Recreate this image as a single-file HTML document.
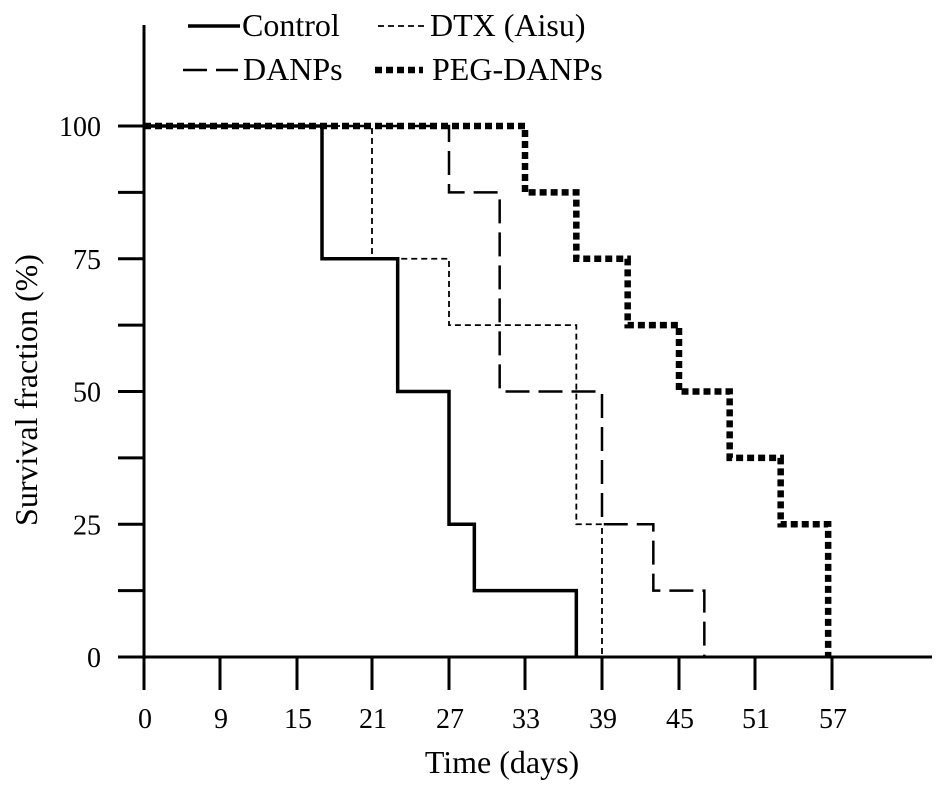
<!DOCTYPE html>
<html><head><meta charset="utf-8"><style>
html,body{margin:0;padding:0;background:#fff;}
svg text{font-family:"Liberation Serif",serif;fill:#000;}
</style></head><body>
<svg id="chart" width="945" height="794" viewBox="0 0 945 794" xmlns="http://www.w3.org/2000/svg">
<g id="axes"></g>
<g id="series"></g>
<g id="legend"></g>
<text x="502" y="773" font-size="32" text-anchor="middle">Time (days)</text>
<text transform="translate(37,390) rotate(-90)" font-size="32" text-anchor="middle">Survival fraction (%)</text>
</svg>
<script>
const xTickValues=[0,9,15,21,27,33,39,45,51,57];
const xTickPixels=[144,220,297,372,449,525,602,679,755,832];
const yTicks=[0,25,50,75,100];
const yMinorTicks=[12.5,37.5,62.5,87.5];
const controlDays=[0,17,23,27,29,37];
const controlVals=[100,75,50,25,12.5,0];
const dtxDays=[0,21,27,37,39];
const dtxVals=[100,75,62.5,25,0];
const danpsDays=[0,27,31,39,43,47];
const danpsVals=[100,87.5,50,25,12.5,0];
const pegDays=[0,33,37,41,45,49,53,56.7];
const pegVals=[100,87.5,75,62.5,50,37.5,25,0];

const NS="http://www.w3.org/2000/svg";
function xs(d){
  for(let i=0;i<xTickValues.length-1;i++){
    if(d<=xTickValues[i+1]){const t=(d-xTickValues[i])/(xTickValues[i+1]-xTickValues[i]);return xTickPixels[i]+t*(xTickPixels[i+1]-xTickPixels[i]);}
  }
  const n=xTickValues.length;return xTickPixels[n-1]+(d-xTickValues[n-1])*(xTickPixels[n-1]-xTickPixels[n-2])/(xTickValues[n-1]-xTickValues[n-2]);
}
function ys(v){return 657-v*5.31;}
function mk(tag,attrs,parent){const e=document.createElementNS(NS,tag);for(const k in attrs)e.setAttribute(k,attrs[k]);parent.appendChild(e);return e;}
const axes=document.getElementById('axes');
let l=mk('line',{x1:144,y1:25,x2:144,y2:658,stroke:'#000','stroke-width':3},axes);


l=mk('line',{x1:118,y1:657,x2:932,y2:657,stroke:'#000','stroke-width':3},axes);


yTicks.forEach(v=>{
  const t=mk('line',{x1:118,y1:ys(v),x2:144,y2:ys(v),stroke:'#000','stroke-width':3},axes);
  
  
  const tx=mk('text',{x:101,y:ys(v)+10,'font-size':28,'text-anchor':'end'},axes);tx.textContent=v;
  
  
});
yMinorTicks.forEach(v=>{
  const t=mk('line',{x1:118,y1:ys(v),x2:144,y2:ys(v),stroke:'#000','stroke-width':3},axes);
  
  
});
xTickValues.forEach(d=>{
  const x=xs(d);
  const t=mk('line',{x1:x,y1:657,x2:x,y2:690,stroke:'#000','stroke-width':3},axes);
  
  
  const tx=mk('text',{x:x+1,y:728,'font-size':28,'text-anchor':'middle'},axes);tx.textContent=d;
  
  
});
const sg=document.getElementById('series');
function step(days,vals,style,name){
  let p='M'+xs(days[0])+','+ys(vals[0]);
  for(let i=1;i<days.length;i++){p+=' H'+xs(days[i])+' V'+ys(vals[i]);}
  const e=mk('path',Object.assign({d:p,fill:'none',stroke:'#000'},style),sg);
  
  
}
const sDTX={'stroke-width':1.8,'stroke-dasharray':'6,4'};
const sDAN={'stroke-width':2.5,'stroke-dasharray':'24,9'};
const sPEG={'stroke-width':6.5,'stroke-dasharray':'7,4'};
const sCTL={'stroke-width':3.5};
step(dtxDays,dtxVals,sDTX,'dtx-aisu-line');
step(danpsDays,danpsVals,sDAN,'danps-line');
step(pegDays,pegVals,sPEG,'peg-danps-line');
step(controlDays,controlVals,sCTL,'control-line');
const lg=document.getElementById('legend');
[[188,240,26,sCTL,'Control',242],[378,428,26,sDTX,'DTX (Aisu)',430],[183,238,70,sDAN,'DANPs',243],[375,423,70,sPEG,'PEG-DANPs',432]].forEach(r=>{
  const ln=mk('line',Object.assign({x1:r[0],y1:r[2],x2:r[1],y2:r[2],stroke:'#000'},r[3]),lg);
  
  
  const tx=mk('text',{x:r[5],y:r[2]+10,'font-size':32},lg);tx.textContent=r[4];
  
  
});
</script>
</body></html>
